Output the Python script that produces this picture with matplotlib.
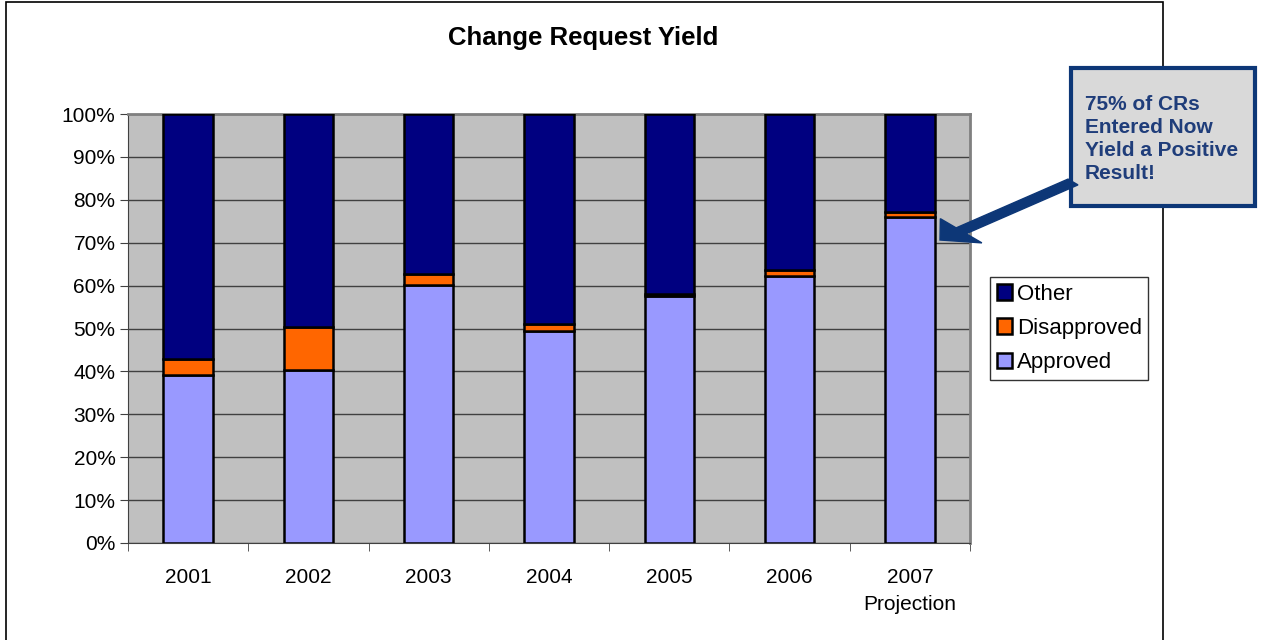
import numpy as np
import matplotlib.pyplot as plt
from matplotlib.patches import Rectangle, FancyArrow
from matplotlib.ticker import PercentFormatter, FixedLocator

plt.rcParams['font.family'] = ['Liberation Sans', 'DejaVu Sans']

years = ['2001', '2002', '2003', '2004', '2005', '2006', '2007\nProjection']
approved = [39.2, 40.3, 60.1, 49.4, 57.6, 62.2, 76.0]
disapproved = [3.6, 10.0, 2.5, 1.6, 0.4, 1.4, 1.1]
other = [100 - a - d for a, d in zip(approved, disapproved)]

fig = plt.figure(figsize=(12.69, 6.4), dpi=100)
fig.patches.append(Rectangle((6 / 1269, -0.1), 1157 / 1269, 1.1 - 2 / 640,
                             transform=fig.transFigure, fill=False,
                             edgecolor='black', linewidth=1.2))

ax = fig.add_axes([128 / 1269, 97 / 640, 842 / 1269, 429 / 640])
ax.set_facecolor('#c0c0c0')
x = np.arange(len(years))
w = 0.41
ax.bar(x, approved, w, color='#9999ff', edgecolor='black', linewidth=1.8,
       label='Approved', zorder=3)
ax.bar(x, disapproved, w, bottom=approved, color='#ff6600', edgecolor='black',
       linewidth=1.8, label='Disapproved', zorder=3)
ax.bar(x, other, w, bottom=np.add(approved, disapproved), color='#000080',
       edgecolor='black', linewidth=1.8, label='Other', zorder=3)

ax.set_xlim(-0.5, len(years) - 0.5)
ax.set_ylim(0, 100)
ax.set_yticks(np.arange(0, 101, 10))
ax.yaxis.set_major_formatter(PercentFormatter(decimals=0))
ax.grid(axis='y', color='#404040', linewidth=1, zorder=0)
ax.set_xticks(x)
ax.set_xticklabels(years, fontsize=15, linespacing=1.5)
ax.xaxis.set_minor_locator(FixedLocator(np.arange(-0.5, len(years), 1.0)))
ax.tick_params(axis='x', which='major', length=0, pad=18)
ax.tick_params(axis='x', which='minor', length=6, color='#404040')
ax.tick_params(axis='y', length=6, color='#404040', labelsize=15, pad=3)
for s in ['top', 'right']:
    ax.spines[s].set_color('#808080')
    ax.spines[s].set_linewidth(2)
ax.spines['left'].set_color('#404040')
ax.spines['bottom'].set_color('#404040')

fig.text(583 / 1269, 1 - 38 / 640, 'Change Request Yield', ha='center',
         va='center', fontsize=18.5, fontweight='bold')

handles, labels = ax.get_legend_handles_labels()
leg = fig.legend(handles[::-1], labels[::-1], loc='upper left',
                 bbox_to_anchor=(990 / 1269, 1 - 277 / 640), fontsize=16,
                 frameon=True, fancybox=False, edgecolor='black',
                 handlelength=0.7, handleheight=0.7, handletextpad=0.2,
                 borderpad=0.3, labelspacing=0.6, borderaxespad=0)
leg.get_frame().set_linewidth(1)

fig.patches.append(Rectangle((1071 / 1269, 1 - 206 / 640), 184 / 1269, 138 / 640,
                             transform=fig.transFigure, facecolor='#d9d9d9',
                             edgecolor='#0d3777', linewidth=3, zorder=5))
fig.text(1085 / 1269, 1 - 139 / 640,
         '75% of CRs\nEntered Now\nYield a Positive\nResult!',
         ha='left', va='center', fontsize=15, fontweight='bold',
         color='#1f3d7a', linespacing=1.28, zorder=6)
fig.patches.append(FancyArrow(1073 / 1269, 1 - 182 / 640,
                              (940 - 1073) / 1269, (182 - 240) / 640,
                              width=0.012, head_width=0.05, head_length=0.022,
                              length_includes_head=True, color='#0d3777',
                              transform=fig.transFigure, zorder=6))

fig.savefig('out.png', dpi=100)
